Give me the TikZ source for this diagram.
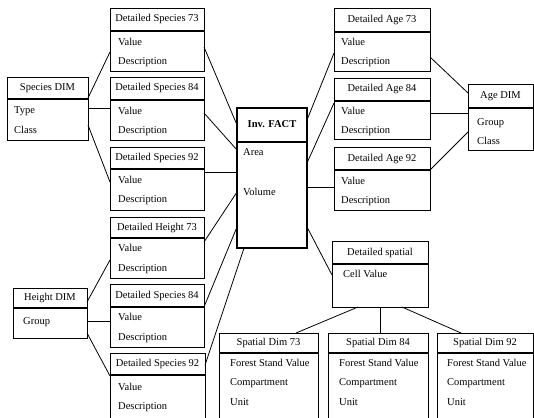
\documentclass[tikz,border=0pt]{standalone}
\usepackage{fontspec}
\setmainfont{Liberation Serif}
\usetikzlibrary{calc}
\tikzset{
 boxframe/.style={draw=black, line width=0.9pt, inner sep=0pt, outer sep=0pt, fill=white},
 factframe/.style={boxframe, line width=1.8pt},
 sepline/.style={line width=1.6pt},
 hdrtext/.style={inner sep=0pt, text height=7.5pt, text depth=2.5pt, font=\fontsize{10.5}{12}\selectfont},
 attrtext/.style={inner sep=0pt, anchor=west, text height=7.5pt, text depth=2.5pt, font=\fontsize{10.5}{12}\selectfont},
 conn/.style={line width=0.8pt}
}
\newcommand{\mybox}[8][boxframe]{%
 \node[#1, anchor=north west, minimum width={(#5-#3)*1pt}, minimum height={(#6-#4)*1pt}] (#2) at (#3,#4) {};
 \draw[sepline] (#3,#7) -- (#5,#7);
 \node[hdrtext] (#2-h) at ({(#3+#5)/2},{(#4+#7)/2}) {#8};
}
\newcommand{\myattr}[4]{\node[attrtext] (#1) at (#2,#3) {#4};}
\begin{document}
\begin{tikzpicture}[x=1pt,y=-1pt]
\useasboundingbox (0,0) rectangle (534,417);
\clip (0,0) rectangle (534,417);
% species side
\mybox{ds73}{110}{8}{204}{71}{31}{Detailed Species 73}
\myattr{ds73a}{118}{43}{Value}\myattr{ds73b}{118}{62}{Description}
\mybox{ds84}{110}{77}{204}{140}{100}{Detailed Species 84}
\myattr{ds84a}{118}{112}{Value}\myattr{ds84b}{118}{131}{Description}
\mybox{ds92}{110}{147}{204}{210}{169}{Detailed Species 92}
\myattr{ds92a}{118}{181}{Value}\myattr{ds92b}{118}{200}{Description}
\mybox{spdim}{7}{77}{88}{140}{99}{Species DIM}
\myattr{spdima}{14}{111}{Type}\myattr{spdimb}{14}{131}{Class}
% fact
\mybox[factframe]{fact}{237}{108}{307}{248}{142}{\bfseries Inv. FACT}
\myattr{facta}{243}{153}{Area}\myattr{factb}{243}{193}{Volume}
% age side
\mybox{da73}{334}{8}{430}{71}{32}{Detailed Age 73}
\myattr{da73a}{341}{43}{Value}\myattr{da73b}{341}{62}{Description}
\mybox{da84}{334}{78}{430}{139}{101}{Detailed Age 84}
\myattr{da84a}{341}{112}{Value}\myattr{da84b}{341}{131}{Description}
\mybox{da92}{334}{147}{430}{210}{170}{Detailed Age 92}
\myattr{da92a}{341}{182}{Value}\myattr{da92b}{341}{201}{Description}
\mybox{agedim}{468}{84}{533}{150}{108}{Age DIM}
\myattr{agedima}{477}{123}{Group}\myattr{agedimb}{477}{142}{Class}
% height side
\mybox{dh73}{110}{217}{204}{278}{238}{Detailed Height 73}
\myattr{dh73a}{118}{249}{Value}\myattr{dh73b}{118}{269}{Description}
\mybox{dsb84}{110}{284}{204}{347}{307}{Detailed Species 84}
\myattr{dsb84a}{118}{318}{Value}\myattr{dsb84b}{118}{338}{Description}
\mybox{dsb92}{110}{353}{205}{420}{375}{Detailed Species 92}
\myattr{dsb92a}{118}{388}{Value}\myattr{dsb92b}{118}{407}{Description}
\mybox{hdim}{13}{288}{87}{338}{308}{Height DIM}
\myattr{hdima}{23}{322}{Group}
% spatial
\mybox{dsp}{332}{241}{428}{307}{264}{Detailed spatial}
\myattr{dspa}{343}{275}{Cell Value}
\mybox{sd73}{219}{333}{318}{420}{353}{Spatial Dim 73}
\myattr{sd73a}{230}{364}{Forest Stand Value}\myattr{sd73b}{230}{383}{Compartment}\myattr{sd73c}{230}{403}{Unit}
\mybox{sd84}{328}{333}{428}{420}{353}{Spatial Dim 84}
\myattr{sd84a}{339}{364}{Forest Stand Value}\myattr{sd84b}{339}{383}{Compartment}\myattr{sd84c}{339}{403}{Unit}
\mybox{sd92}{437}{333}{533}{420}{353}{Spatial Dim 92}
\myattr{sd92a}{447}{364}{Forest Stand Value}\myattr{sd92b}{447}{383}{Compartment}\myattr{sd92c}{447}{403}{Unit}
% connectors
\draw[conn] ($(spdim.north east)+(0,21)$) -- ($(ds73.north west)+(0,44)$);
\draw[conn] ($(spdim.north east)+(0,31)$) -- ($(ds84.north west)+(0,31)$);
\draw[conn] ($(spdim.north east)+(0,48)$) -- ($(ds92.north west)+(0,35)$);
\draw[conn] ($(ds73.north east)+(0,39)$) -- ($(fact.north west)+(0,17)$);
\draw[conn] ($(ds84.north east)+(0,36)$) -- ($(fact.north west)+(0,42)$);
\draw[conn] ($(ds92.north east)+(0,25)$) -- ($(fact.north west)+(0,64)$);
\draw[conn] ($(dh73.north east)+(0,25)$) -- ($(fact.north west)+(0,84)$);
\draw[conn] ($(dsb84.north east)+(0,23)$) -- ($(fact.north west)+(0,119)$);
\draw[conn] ($(dsb92.north east)+(0,12)$) -- ($(fact.south west)+(7,0)$);
\draw[conn] ($(hdim.north east)+(0,14)$) -- ($(dh73.north west)+(0,43)$);
\draw[conn] ($(hdim.north east)+(0,33)$) -- ($(dsb84.north west)+(0,37)$);
\draw[conn] ($(hdim.north east)+(0,45)$) -- ($(dsb92.north west)+(0,23)$);
\draw[conn] ($(fact.north east)+(0,12)$) -- ($(da73.north west)+(0,45)$);
\draw[conn] ($(fact.north east)+(0,55)$) -- ($(da84.north west)+(0,25)$);
\draw[conn] ($(fact.north east)+(0,79)$) -- ($(da92.north west)+(0,40)$);
\draw[conn] ($(fact.north east)+(0,119)$) -- ($(dsp.north west)+(0,34)$);
\draw[conn] ($(da73.north east)+(0,49)$) -- ($(agedim.north west)+(0,9)$);
\draw[conn] ($(da84.north east)+(0,35)$) -- ($(agedim.north west)+(0,29)$);
\draw[conn] ($(da92.north east)+(0,23)$) -- ($(agedim.north west)+(0,48)$);
\draw[conn] ($(dsp.south west)+(26,0)$) -- ($(sd73.north west)+(77,0)$);
\draw[conn] ($(dsp.south west)+(48,0)$) -- ($(sd84.north west)+(52,0)$);
\draw[conn] ($(dsp.south west)+(70,0)$) -- ($(sd92.north west)+(24,0)$);
\end{tikzpicture}
\end{document}
